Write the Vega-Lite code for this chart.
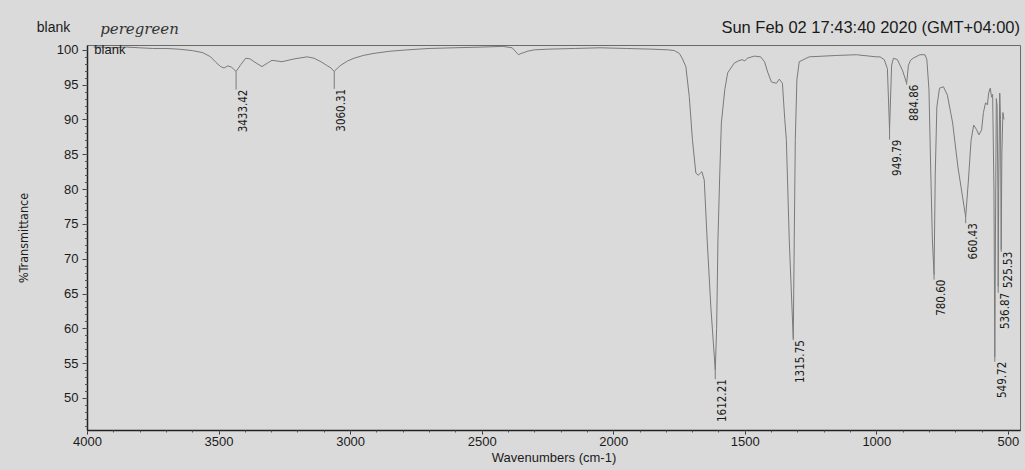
{
  "$schema": "https://vega.github.io/schema/vega-lite/v6.json",
  "width": 933,
  "height": 385,
  "autosize": {"type": "none"},
  "padding": {"left": 87, "top": 45, "right": 5, "bottom": 40},
  "background": "#dadada",
  "config": {
    "view": {"stroke": "#6a6a6a", "strokeWidth": 1},
    "font": "Liberation Sans, Arial, sans-serif"
  },
  "datasets": {
    "spectrum": [
      {"wn": 3975, "T": 100.4}, {"wn": 3950, "T": 100.4}, {"wn": 3900, "T": 100.3}, {"wn": 3850, "T": 100.4},
      {"wn": 3800, "T": 100.3}, {"wn": 3750, "T": 100.2}, {"wn": 3700, "T": 100.2}, {"wn": 3650, "T": 100.1},
      {"wn": 3600, "T": 99.9}, {"wn": 3560, "T": 99.6}, {"wn": 3530, "T": 99.0}, {"wn": 3510, "T": 98.2},
      {"wn": 3492, "T": 97.6}, {"wn": 3479, "T": 97.4}, {"wn": 3465, "T": 97.7}, {"wn": 3450, "T": 97.5},
      {"wn": 3433.42, "T": 96.9}, {"wn": 3415, "T": 97.9}, {"wn": 3397, "T": 98.8}, {"wn": 3380, "T": 98.7},
      {"wn": 3365, "T": 98.3}, {"wn": 3335, "T": 97.6}, {"wn": 3310, "T": 98.2}, {"wn": 3297, "T": 98.5},
      {"wn": 3259, "T": 98.3}, {"wn": 3213, "T": 98.7}, {"wn": 3163, "T": 99.0}, {"wn": 3137, "T": 98.8},
      {"wn": 3111, "T": 98.3}, {"wn": 3090, "T": 97.8}, {"wn": 3073, "T": 97.4}, {"wn": 3060.31, "T": 96.9},
      {"wn": 3045, "T": 97.5}, {"wn": 3035, "T": 97.8}, {"wn": 3010, "T": 98.4}, {"wn": 2985, "T": 98.8},
      {"wn": 2950, "T": 99.2}, {"wn": 2909, "T": 99.5}, {"wn": 2850, "T": 99.8}, {"wn": 2783, "T": 100.0},
      {"wn": 2700, "T": 100.2}, {"wn": 2605, "T": 100.3}, {"wn": 2500, "T": 100.4}, {"wn": 2420, "T": 100.5},
      {"wn": 2384, "T": 100.3}, {"wn": 2370, "T": 99.7}, {"wn": 2360, "T": 99.3}, {"wn": 2350, "T": 99.5},
      {"wn": 2340, "T": 99.6}, {"wn": 2327, "T": 99.8}, {"wn": 2300, "T": 100.0}, {"wn": 2250, "T": 100.1},
      {"wn": 2148, "T": 100.2}, {"wn": 2050, "T": 100.3}, {"wn": 1950, "T": 100.2}, {"wn": 1850, "T": 100.1},
      {"wn": 1790, "T": 100.0}, {"wn": 1768, "T": 99.9}, {"wn": 1749, "T": 99.5}, {"wn": 1738, "T": 98.8},
      {"wn": 1724, "T": 97.6}, {"wn": 1711, "T": 93.3}, {"wn": 1699, "T": 87.1}, {"wn": 1686, "T": 82.3},
      {"wn": 1677, "T": 82.0}, {"wn": 1663, "T": 82.5}, {"wn": 1654, "T": 81.3}, {"wn": 1643, "T": 72.7},
      {"wn": 1629, "T": 63.1}, {"wn": 1612.21, "T": 54.0}, {"wn": 1607, "T": 60.0}, {"wn": 1602, "T": 72.7},
      {"wn": 1595, "T": 82.3}, {"wn": 1589, "T": 89.5}, {"wn": 1576, "T": 94.3}, {"wn": 1565, "T": 96.7},
      {"wn": 1540, "T": 98.1}, {"wn": 1525, "T": 98.4}, {"wn": 1510, "T": 98.6}, {"wn": 1500, "T": 98.4},
      {"wn": 1491, "T": 98.8}, {"wn": 1464, "T": 99.1}, {"wn": 1440, "T": 99.0}, {"wn": 1425, "T": 98.3},
      {"wn": 1412, "T": 96.7}, {"wn": 1399, "T": 95.4}, {"wn": 1380, "T": 95.2}, {"wn": 1369, "T": 95.8},
      {"wn": 1357, "T": 95.2}, {"wn": 1348, "T": 90.0}, {"wn": 1342, "T": 87.1}, {"wn": 1331, "T": 72.7},
      {"wn": 1315.75, "T": 58.5}, {"wn": 1312, "T": 72.7}, {"wn": 1308, "T": 87.1}, {"wn": 1302, "T": 95.7},
      {"wn": 1293, "T": 98.3}, {"wn": 1255, "T": 99.0}, {"wn": 1150, "T": 99.2}, {"wn": 1076, "T": 99.3},
      {"wn": 1000, "T": 99.0}, {"wn": 986, "T": 99.0}, {"wn": 970, "T": 98.6}, {"wn": 958, "T": 97.3},
      {"wn": 949.79, "T": 88.5}, {"wn": 942, "T": 97.8}, {"wn": 935, "T": 98.8}, {"wn": 920, "T": 98.6},
      {"wn": 910, "T": 97.8}, {"wn": 900, "T": 97.0}, {"wn": 884.86, "T": 95.2}, {"wn": 878, "T": 97.8},
      {"wn": 870, "T": 98.5}, {"wn": 860, "T": 98.8}, {"wn": 835, "T": 99.3}, {"wn": 815, "T": 99.3},
      {"wn": 808, "T": 98.6}, {"wn": 800, "T": 94.3}, {"wn": 793, "T": 82.3}, {"wn": 787, "T": 72.7},
      {"wn": 780.6, "T": 67.7}, {"wn": 776, "T": 82.3}, {"wn": 770, "T": 91.8}, {"wn": 760, "T": 94.5},
      {"wn": 745, "T": 94.7}, {"wn": 730, "T": 93.5}, {"wn": 710, "T": 89.5}, {"wn": 690, "T": 83.2},
      {"wn": 660.43, "T": 76.0}, {"wn": 650, "T": 81.3}, {"wn": 640, "T": 87.0}, {"wn": 630, "T": 89.2},
      {"wn": 620, "T": 88.6}, {"wn": 610, "T": 87.8}, {"wn": 600, "T": 88.5}, {"wn": 593, "T": 91.0},
      {"wn": 585, "T": 92.4}, {"wn": 578, "T": 92.1}, {"wn": 573, "T": 93.8}, {"wn": 567, "T": 94.5},
      {"wn": 562, "T": 93.2}, {"wn": 558, "T": 93.6}, {"wn": 553, "T": 80.0}, {"wn": 549.72, "T": 55.9},
      {"wn": 547, "T": 75.0}, {"wn": 544, "T": 93.0}, {"wn": 541, "T": 92.0}, {"wn": 538, "T": 80.0},
      {"wn": 536.87, "T": 66.0}, {"wn": 535, "T": 80.0}, {"wn": 531, "T": 93.8}, {"wn": 528, "T": 90.0},
      {"wn": 525.53, "T": 71.3}, {"wn": 523, "T": 85.0}, {"wn": 519, "T": 91.0}, {"wn": 515, "T": 90.0}
    ],
    "peaks": [
      {"wn": 3433.42, "tip": 96.9, "lab": 94.3, "label": "3433.42"},
      {"wn": 3060.31, "tip": 96.9, "lab": 94.4, "label": "3060.31"},
      {"wn": 1612.21, "tip": 54.0, "lab": 52.7, "label": "1612.21"},
      {"wn": 1315.75, "tip": 58.5, "lab": 58.3, "label": "1315.75"},
      {"wn": 949.79, "tip": 88.5, "lab": 87.1, "label": "949.79"},
      {"wn": 884.86, "tip": 95.2, "lab": 95.0, "label": "884.86"},
      {"wn": 780.6, "tip": 67.7, "lab": 67.0, "label": "780.60"},
      {"wn": 660.43, "tip": 76.0, "lab": 75.1, "label": "660.43"},
      {"wn": 549.72, "tip": 55.9, "lab": 55.2, "label": "549.72"},
      {"wn": 536.87, "tip": 66.0, "lab": 65.1, "label": "536.87"},
      {"wn": 525.53, "tip": 71.3, "lab": 71.0, "label": "525.53"}
    ]
  },
  "resolve": {"axis": {"x": "independent", "y": "independent"}},
  "layer": [
    {
      "data": {"name": "spectrum"},
      "mark": {"type": "line", "color": "#7a7a7a", "strokeWidth": 1},
      "encoding": {
        "x": {
          "field": "wn", "type": "quantitative",
          "scale": {"domain": [454, 4000], "reverse": true, "nice": false, "zero": false},
          "axis": {
            "values": [4000, 3500, 3000, 2500, 2000, 1500, 1000, 500],
            "title": "Wavenumbers (cm-1)", "titleFontSize": 13, "titleFontWeight": "normal",
            "titleColor": "#1a1a1a", "titlePadding": 3,
            "labelFontSize": 13, "labelColor": "#1a1a1a", "labelPadding": 1, "labelFlush": false,
            "tickSize": 4, "tickColor": "#333", "domainColor": "#222", "domainWidth": 1.5,
            "grid": false, "format": "d"
          }
        },
        "y": {
          "field": "T", "type": "quantitative",
          "scale": {"domain": [45.4, 100.7], "nice": false, "zero": false},
          "axis": {
            "values": [50, 55, 60, 65, 70, 75, 80, 85, 90, 95, 100],
            "title": "%Transmittance", "titleFont": "Liberation Sans Narrow, DejaVu Sans Condensed, sans-serif",
            "titleFontSize": 12.5, "titleFontWeight": "normal", "titleColor": "#1a1a1a", "titlePadding": 26,
            "labelFontSize": 13, "labelColor": "#1a1a1a", "labelPadding": 4,
            "tickSize": 5, "tickColor": "#444", "domainColor": "#222", "domainWidth": 1.5,
            "grid": false
          }
        }
      }
    },
    {
      "data": {"values": [{}]},
      "mark": {"type": "point", "opacity": 0},
      "encoding": {
        "x": {"datum": 2000, "type": "quantitative",
          "axis": {"orient": "bottom", "values": [4000,3900,3800,3700,3600,3500,3400,3300,3200,3100,3000,2900,2800,2700,2600,2500,2400,2300,2200,2100,2000,1900,1800,1700,1600,1500,1400,1300,1200,1100,1000,900,800,700,600,500],
            "labels": false, "title": null, "tickSize": 2, "tickColor": "#555", "domain": false, "grid": false}},
        "y": {"datum": 70, "type": "quantitative",
          "axis": {"orient": "left", "values": [46,47,48,49,50,51,52,53,54,55,56,57,58,59,60,61,62,63,64,65,66,67,68,69,70,71,72,73,74,75,76,77,78,79,80,81,82,83,84,85,86,87,88,89,90,91,92,93,94,95,96,97,98,99,100],
            "labels": false, "title": null, "tickSize": 2.5, "tickColor": "#555", "domain": false, "grid": false}}
      }
    },
    {
      "data": {"name": "peaks"},
      "mark": {"type": "rule", "color": "#7a7a7a", "strokeWidth": 1},
      "encoding": {
        "x": {"field": "wn", "type": "quantitative", "axis": null},
        "y": {"field": "tip", "type": "quantitative", "axis": null},
        "y2": {"field": "lab"}
      }
    },
    {
      "data": {"name": "peaks"},
      "mark": {"type": "text", "angle": 270, "align": "right", "baseline": "top", "dy": 2,
        "font": "Liberation Sans Narrow, DejaVu Sans Condensed, sans-serif", "fontSize": 11.5, "color": "#1a1a1a"},
      "encoding": {
        "x": {"field": "wn", "type": "quantitative", "axis": null},
        "y": {"field": "lab", "type": "quantitative", "axis": null},
        "text": {"field": "label"}
      }
    },
    {
      "data": {"values": [{}]},
      "mark": {"type": "text", "text": "blank", "align": "left", "baseline": "middle", "fontSize": 13, "color": "#1a1a1a"},
      "encoding": {
        "x": {"datum": 3972, "type": "quantitative", "axis": null},
        "y": {"datum": 100.0, "type": "quantitative", "axis": null}
      }
    },
    {
      "data": {"values": [{}]},
      "mark": {"type": "text", "text": "blank", "align": "left", "baseline": "middle", "fontSize": 14, "color": "#1a1a1a"},
      "encoding": {
        "x": {"datum": 4191, "type": "quantitative", "axis": null},
        "y": {"datum": 103.1, "type": "quantitative", "axis": null}
      }
    },
    {
      "data": {"values": [{}]},
      "mark": {"type": "text", "text": "peregreen", "align": "left", "baseline": "middle", "font": "DejaVu Serif, serif", "fontStyle": "italic", "fontSize": 15, "color": "#333"},
      "encoding": {
        "x": {"datum": 3950, "type": "quantitative", "axis": null},
        "y": {"datum": 103.0, "type": "quantitative", "axis": null}
      }
    },
    {
      "data": {"values": [{}]},
      "mark": {"type": "text", "text": "Sun Feb 02 17:43:40 2020 (GMT+04:00)", "align": "right", "baseline": "middle", "fontSize": 16.5, "color": "#1a1a1a"},
      "encoding": {
        "x": {"datum": 454, "type": "quantitative", "axis": null},
        "y": {"datum": 103.1, "type": "quantitative", "axis": null}
      }
    }
  ]
}
